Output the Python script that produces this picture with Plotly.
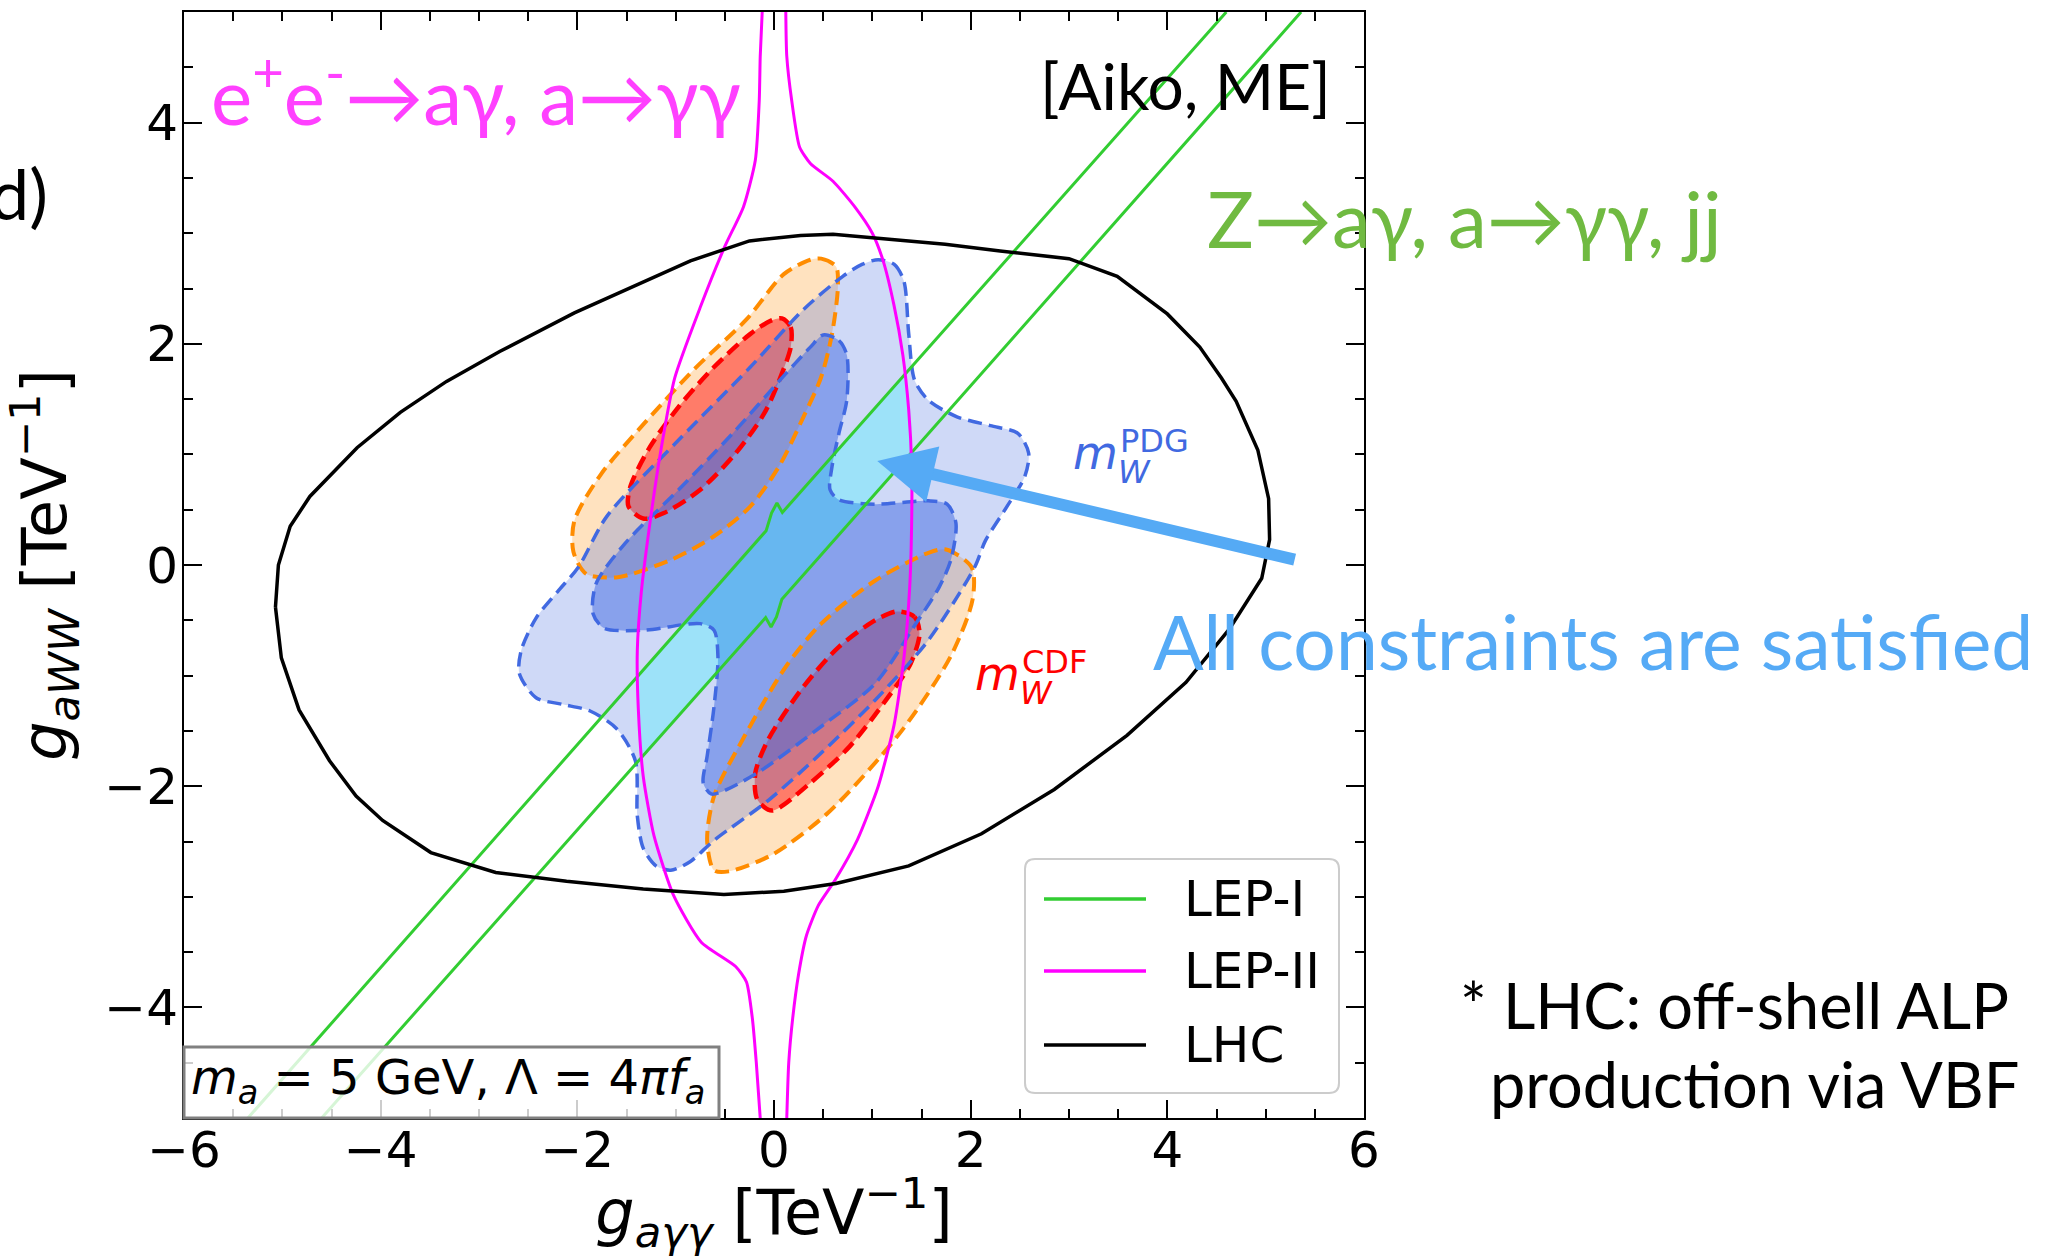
import plotly.graph_objects as go

# ---------------- values ----------------
X_TICKS = [-6, -4, -2, 0, 2, 4, 6]
X_TICK_TEXT = ["−6", "−4", "−2", "0", "2", "4", "6"]
Y_TICKS = [-4, -2, 0, 2, 4]
Y_TICK_TEXT = ["−4", "−2", "0", "2", "4"]

# LHC (black, closed contour)
LHC_X = [-5.07, -5.04, -4.92, -4.72, -4.24, -3.80, -3.33, -2.79, -2.03, -1.33, -0.85, -0.25, 0.27, 0.60,
         1.74, 2.30, 3.00, 3.49, 4.00, 4.33, 4.55, 4.70, 4.92, 5.03, 5.04, 4.96, 4.63, 4.19, 3.59, 2.85,
         2.11, 1.37, 0.63, 0.10, -0.51, -1.33, -2.11, -2.83, -3.49, -3.98, -4.25, -4.52, -4.83, -5.01, -5.07]
LHC_Y = [-0.38, 0.00, 0.35, 0.62, 1.06, 1.38, 1.66, 1.93, 2.28, 2.56, 2.75, 2.93, 2.98, 2.99,
         2.90, 2.84, 2.77, 2.61, 2.27, 1.97, 1.69, 1.48, 1.04, 0.60, 0.23, -0.12, -0.58, -1.06, -1.54, -2.03,
         -2.43, -2.72, -2.88, -2.95, -2.98, -2.93, -2.86, -2.78, -2.60, -2.31, -2.09, -1.77, -1.31, -0.84, -0.38]

# LEP-II (magenta), left and right branches
LEP2_L_X = [-0.12, -0.14, -0.15, -0.19, -0.31, -0.50, -0.75, -1.01, -1.15, -1.26, -1.35, -1.39, -1.38,
            -1.33, -1.22, -1.02, -0.74, -0.39, -0.28, -0.22, -0.18, -0.14]
LEP2_L_Y = [5.0, 4.6, 4.2, 3.66, 3.24, 2.88, 2.33, 1.69, 1.04, 0.39, -0.25, -0.77, -1.30,
            -1.91, -2.45, -2.99, -3.41, -3.63, -3.77, -4.1, -4.5, -5.0]
LEP2_R_X = [0.12, 0.13, 0.18, 0.26, 0.37, 0.60, 0.82, 1.00, 1.11, 1.22, 1.31, 1.37, 1.40, 1.40, 1.38,
            1.32, 1.22, 1.06, 0.85, 0.62, 0.45, 0.33, 0.25, 0.19, 0.15, 0.13]
LEP2_R_Y = [5.0, 4.6, 4.2, 3.78, 3.63, 3.47, 3.24, 3.00, 2.75, 2.35, 1.90, 1.40, 0.90, 0.40, -0.20,
            -0.85, -1.45, -2.00, -2.48, -2.85, -3.08, -3.35, -3.70, -4.10, -4.50, -5.0]

# LEP-I (green), upper and lower line (with the small kink near g_ayy = 0)
LEP1_A_X = [-5.35, -0.08, -0.025, 0.03, 0.085, 4.60]
LEP1_A_Y = [-5.0, 0.31, 0.47, 0.56, 0.475, 5.0]
LEP1_B_X = [-4.60, -0.085, -0.03, 0.025, 0.08, 5.36]
LEP1_B_Y = [-5.0, -0.475, -0.56, -0.47, -0.31, 5.0]

# m_W^PDG (blue): outer and inner region
PDG_OUT_X = [1.06, 1.22, 1.32, 1.37, 1.43, 1.57, 1.86, 2.20, 2.48, 2.59, 2.55, 2.37, 2.15, 2.04, 1.57, 1.03,
             0.48, -0.06, -0.61, -0.85, -1.05, -1.20, -1.33, -1.39, -1.41, -1.60, -1.87, -2.15, -2.42,
             -2.59, -2.57, -2.42, -2.19, -1.99, -1.70, -0.97, -0.24, 0.30, 0.70, 0.90]
PDG_OUT_Y = [2.76, 2.72, 2.57, 2.09, 1.67, 1.49, 1.34, 1.26, 1.19, 1.01, 0.80, 0.53, 0.22, -0.02, -0.68,
             -1.22, -1.70, -2.13, -2.49, -2.68, -2.76, -2.72, -2.56, -2.27, -1.77, -1.48, -1.32, -1.26,
             -1.20, -0.98, -0.77, -0.48, -0.23, -0.02, 0.44, 1.13, 1.79, 2.31, 2.61, 2.72]
PDG_IN_X = [0.50, 0.66, 0.74, 0.74, 0.66, 0.59, 0.57, 0.66, 1.03, 1.57, 1.76, 1.85, 1.80, 1.68, 1.45,
            1.03, 0.48, -0.17, -0.53, -0.64, -0.72, -0.68, -0.61, -0.57, -0.61, -0.75, -1.33, -1.73,
            -1.84, -1.81, -1.51, -0.97, -0.42, 0.12, 0.37]
PDG_IN_Y = [2.08, 2.03, 1.90, 1.49, 1.19, 0.89, 0.68, 0.59, 0.55, 0.58, 0.55, 0.38, 0.05, -0.20, -0.52,
            -1.07, -1.46, -1.88, -2.05, -2.07, -1.97, -1.73, -1.28, -0.83, -0.59, -0.53, -0.59, -0.57,
            -0.44, -0.17, 0.20, 0.68, 1.19, 1.73, 1.97]

# m_W^CDF (orange outer / red inner), upper-left and lower-right islands
CDF_OUT_UP_X = [0.37, 0.48, 0.63, 0.65, 0.59, 0.48, 0.30, 0.05, -0.24, -0.61, -1.04, -1.59, -1.91, -2.04,
                -2.03, -1.76, -1.32, -0.80, -0.28, 0.10]
CDF_OUT_UP_Y = [2.76, 2.77, 2.70, 2.52, 2.09, 1.70, 1.34, 0.89, 0.53, 0.26, 0.05, -0.11, -0.08, 0.12,
                0.40, 0.82, 1.28, 1.78, 2.22, 2.63]
CDF_OUT_DN_X = [1.57, 1.75, 2.01, 2.02, 1.80, 1.28, 0.55, -0.02, -0.46, -0.61, -0.68, -0.61, -0.32, 0.12,
                0.48, 1.03]
CDF_OUT_DN_Y = [0.11, 0.14, -0.02, -0.31, -0.82, -1.52, -2.24, -2.62, -2.77, -2.76, -2.49, -2.09, -1.58,
                -0.92, -0.53, -0.14]
CDF_IN_UP_X = [0.08, 0.17, 0.17, 0.08, -0.10, -0.39, -0.75, -1.12, -1.33, -1.48, -1.46, -1.26, -0.97,
               -0.61, -0.24, -0.03]
CDF_IN_UP_Y = [2.23, 2.15, 1.97, 1.73, 1.37, 1.01, 0.68, 0.47, 0.42, 0.53, 0.71, 1.07, 1.43, 1.79, 2.09,
               2.21]
CDF_IN_DN_X = [1.25, 1.43, 1.48, 1.39, 1.14, 0.77, 0.37, -0.02, -0.17, -0.19, -0.06, 0.30, 0.66, 1.03]
CDF_IN_DN_Y = [-0.42, -0.47, -0.62, -0.89, -1.22, -1.64, -1.97, -2.22, -2.12, -1.88, -1.58, -1.10, -0.74,
               -0.50]

# region where all constraints are satisfied (between the LEP-I lines, inside LEP-II)
SAT_X = [-1.35, -0.085, -0.03, 0.025, 0.08, 1.39, 1.40, 1.37, 1.33, 0.085, 0.03, -0.025, -0.08, -1.38,
         -1.38, -1.36]
SAT_Y = [-1.74, -0.475, -0.56, -0.47, -0.31, 1.00, 1.25, 1.55, 1.72, 0.475, 0.56, 0.47, 0.31, -0.99,
         -1.25, -1.50]

# arrow: from (tail) to (head), data coordinates
ARROW_TAIL = (5.31, 0.045)
ARROW_HEAD = (1.05, 0.94)

# ---------------- layout geometry (pixels of the 2053x1257 canvas) ----------------
W, H = 2053, 1257
PL, PR, PT, PB = 184, 1364, 12, 1118


def px(x):
    return (x - PL) / (PR - PL)


def py(y):
    return (PB - y) / (PB - PT)


def closed(xs, ys):
    return list(xs) + [xs[0]], list(ys) + [ys[0]]


fig = go.Figure()


def add_fill(xs, ys, color, name, shape="spline"):
    cx, cy = closed(xs, ys)
    fig.add_trace(go.Scatter(x=cx, y=cy, mode="lines", fill="toself", fillcolor=color,
                             line=dict(width=0, shape=shape, smoothing=0.8), hoverinfo="skip",
                             showlegend=False, name=name))


def add_outline(xs, ys, color, width, name):
    cx, cy = closed(xs, ys)
    fig.add_trace(go.Scatter(x=cx, y=cy, mode="lines",
                             line=dict(color=color, width=width, dash="14px,7px", shape="spline",
                                       smoothing=0.8),
                             hoverinfo="skip", showlegend=False, name=name))


ORANGE_F = "rgba(255,140,0,0.25)"
RED_F = "rgba(255,0,0,0.45)"
BLUE_F1 = "rgba(65,105,225,0.25)"
BLUE_F2 = "rgba(65,105,225,0.5)"
CYAN_F = "rgba(0,255,255,0.24)"

add_fill(CDF_OUT_UP_X, CDF_OUT_UP_Y, ORANGE_F, "CDF outer")
add_fill(CDF_OUT_DN_X, CDF_OUT_DN_Y, ORANGE_F, "CDF outer")
add_fill(CDF_IN_UP_X, CDF_IN_UP_Y, RED_F, "CDF inner")
add_fill(CDF_IN_DN_X, CDF_IN_DN_Y, RED_F, "CDF inner")
add_fill(PDG_OUT_X, PDG_OUT_Y, BLUE_F1, "PDG outer")
add_fill(PDG_IN_X, PDG_IN_Y, BLUE_F2, "PDG inner")
add_fill(SAT_X, SAT_Y, CYAN_F, "allowed", shape="linear")

add_outline(CDF_OUT_UP_X, CDF_OUT_UP_Y, "#ff8c00", 4, "CDF outer")
add_outline(CDF_OUT_DN_X, CDF_OUT_DN_Y, "#ff8c00", 4, "CDF outer")
add_outline(CDF_IN_UP_X, CDF_IN_UP_Y, "#ff0000", 4.5, "CDF inner")
add_outline(CDF_IN_DN_X, CDF_IN_DN_Y, "#ff0000", 4.5, "CDF inner")
add_outline(PDG_OUT_X, PDG_OUT_Y, "#4169e1", 3.5, "PDG outer")
add_outline(PDG_IN_X, PDG_IN_Y, "#4169e1", 3.5, "PDG inner")

GREEN = "#32cd32"
MAGENTA = "#ff00ff"
fig.add_trace(go.Scatter(x=LEP1_A_X, y=LEP1_A_Y, mode="lines", line=dict(color=GREEN, width=3),
                         name="LEP-I", showlegend=False))
fig.add_trace(go.Scatter(x=LEP1_B_X, y=LEP1_B_Y, mode="lines", line=dict(color=GREEN, width=3),
                         name="LEP-I", showlegend=False))
fig.add_trace(go.Scatter(x=LEP2_L_X, y=LEP2_L_Y, mode="lines",
                         line=dict(color=MAGENTA, width=3, shape="spline", smoothing=0.6),
                         name="LEP-II", showlegend=False))
fig.add_trace(go.Scatter(x=LEP2_R_X, y=LEP2_R_Y, mode="lines",
                         line=dict(color=MAGENTA, width=3, shape="spline", smoothing=0.6),
                         name="LEP-II", showlegend=False))
fig.add_trace(go.Scatter(x=LHC_X, y=LHC_Y, mode="lines", line=dict(color="black", width=3.5),
                         name="LHC", showlegend=False))

MATH = "DejaVu Sans"
SLIDE = "Lato"
TICKFONT = dict(family=MATH, size=50, color="black")

axis_common = dict(showgrid=False, zeroline=False, showline=True, linecolor="black", linewidth=2,
                   mirror="allticks", ticks="inside", ticklen=18, tickwidth=2, tickcolor="black",
                   tickmode="array", tickfont=TICKFONT, automargin=False,
                   minor=dict(ticks="inside", ticklen=9, tickwidth=2, tickcolor="black",
                              tickmode="linear", tick0=0, dtick=0.5, showgrid=False))

fig.update_layout(
    width=W, height=H,
    margin=dict(l=PL, r=W - PR, t=PT, b=H - PB, pad=0),
    paper_bgcolor="white", plot_bgcolor="white",
    showlegend=False,
    xaxis=dict(range=[-6, 6], tickvals=X_TICKS, ticktext=X_TICK_TEXT, ticklabelstandoff=-13,
               title=dict(text="<i>g</i><sub><i>aγγ</i></sub> [TeV<sup>−1</sup>]",
                          font=dict(family=MATH, size=62, color="black"), standoff=34),
               **axis_common),
    yaxis=dict(range=[-5, 5], tickvals=Y_TICKS, ticktext=Y_TICK_TEXT, ticklabelstandoff=-6,
               title=dict(text="<i>g</i><sub><i>aWW</i></sub> [TeV<sup>−1</sup>]",
                          font=dict(family=MATH, size=62, color="black"), standoff=18),
               **axis_common),
)


def rrect(x0, y0, x1, y1, r):
    return (f"M {px(x0 + r)},{py(y0)} L {px(x1 - r)},{py(y0)} Q {px(x1)},{py(y0)} {px(x1)},{py(y0 + r)} "
            f"L {px(x1)},{py(y1 - r)} Q {px(x1)},{py(y1)} {px(x1 - r)},{py(y1)} "
            f"L {px(x0 + r)},{py(y1)} Q {px(x0)},{py(y1)} {px(x0)},{py(y1 - r)} "
            f"L {px(x0)},{py(y0 + r)} Q {px(x0)},{py(y0)} {px(x0 + r)},{py(y0)} Z")


shapes = []
# legend frame
shapes.append(dict(type="path", xref="paper", yref="paper", path=rrect(1025, 859, 1339, 1093, 10),
                   fillcolor="rgba(255,255,255,0.8)", line=dict(color="#cccccc", width=2), layer="above"))
LEG_ITEMS = [("LEP-I", GREEN, 899), ("LEP-II", MAGENTA, 971), ("LHC", "black", 1045)]
for lab, col, yy in LEG_ITEMS:
    shapes.append(dict(type="line", xref="paper", yref="paper", x0=px(1044), x1=px(1146), y0=py(yy),
                       y1=py(yy), line=dict(color=col, width=3.5), layer="above"))
# parameter box
shapes.append(dict(type="rect", xref="paper", yref="paper", x0=px(184), x1=px(719), y0=py(1047), y1=py(1118),
                   fillcolor="rgba(255,255,255,0.8)", line=dict(color="#808080", width=3), layer="above"))

ann = []
for lab, col, yy in LEG_ITEMS:
    ann.append(dict(text=lab, xref="paper", yref="paper", x=px(1182), y=py(yy), xanchor="left",
                    yanchor="middle", showarrow=False, font=dict(family=MATH, size=50, color="black")))

ann.append(dict(text="<i>m</i><sub><i>a</i></sub> = 5 GeV, Λ = 4<i>πf</i><sub><i>a</i></sub>",
                xref="paper", yref="paper", x=px(448), y=py(1080), xanchor="center", yanchor="middle",
                showarrow=False, font=dict(family=MATH, size=48, color="black")))


def label(text, x, y, size, color, family, anchor="left"):
    ann.append(dict(text=text, xref="paper", yref="paper", x=px(x), y=py(y), xanchor=anchor,
                    yanchor="middle", showarrow=False, font=dict(family=family, size=size, color=color)))


ROYAL = "#4169e1"
label("<i>m</i>", 1071, 453, 46, ROYAL, MATH)
label("PDG", 1118, 441, 32, ROYAL, MATH)
label("<i>W</i>", 1116, 472, 32, ROYAL, MATH)
label("<i>m</i>", 973, 674, 46, "#ff0000", MATH)
label("CDF", 1020, 662, 32, "#ff0000", MATH)
label("<i>W</i>", 1018, 693, 32, "#ff0000", MATH)

label("e<sup>+</sup>e<sup>-</sup>→aγ, a→γγ", 209, 90, 78, "#ff40ff", SLIDE)
label("[Aiko, ME]", 1333, 86, 64, "black", SLIDE, anchor="right")
label("Z→aγ, a→γγ, jj", 1205, 218, 78, "#70ba41", SLIDE)
label("All constraints are satisfied", 1151, 641, 75, "#55aaf6", SLIDE)
label("* LHC: off-shell ALP", 2011, 1004, 63, "black", SLIDE, anchor="right")
label("production via VBF", 2021, 1083, 63, "black", SLIDE, anchor="right")
label("d)", 50, 193, 70, "black", SLIDE, anchor="right")

ann.append(dict(text="", xref="x", yref="y", axref="x", ayref="y", x=ARROW_HEAD[0], y=ARROW_HEAD[1],
                ax=ARROW_TAIL[0], ay=ARROW_TAIL[1], showarrow=True, arrowhead=2, arrowsize=0.95,
                arrowwidth=12, arrowcolor="#55aaf5", standoff=0))

fig.update_layout(shapes=shapes, annotations=ann)
fig.write_html("out.html")
